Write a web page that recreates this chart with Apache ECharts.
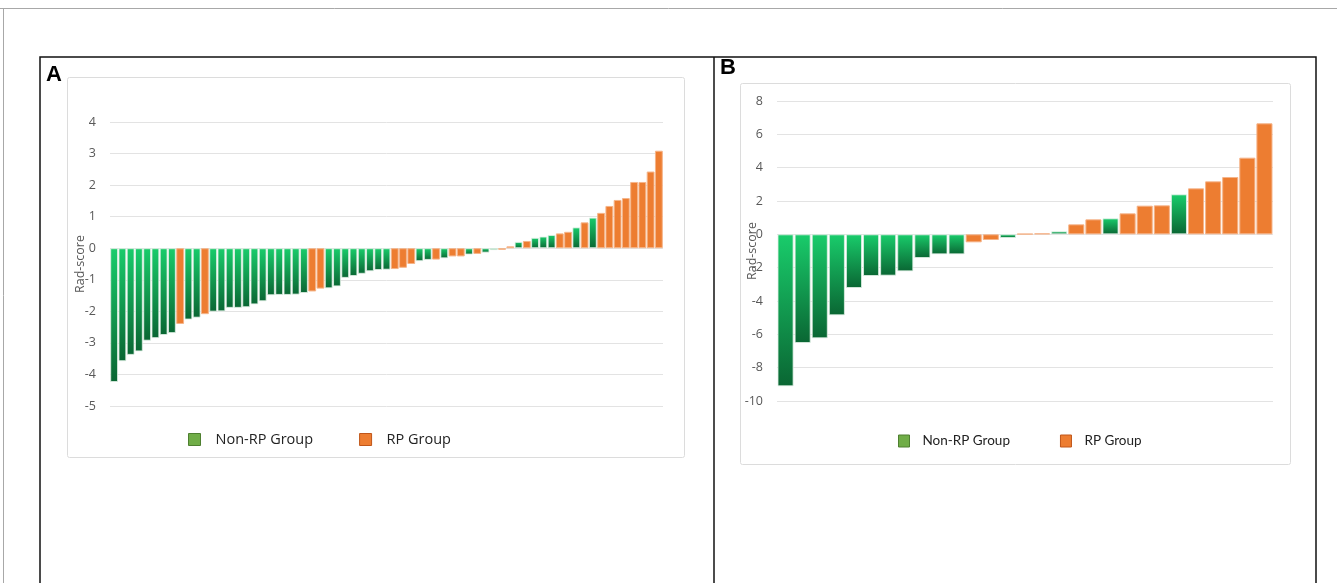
<!DOCTYPE html>
<html>
<head>
<meta charset="utf-8">
<script src="https://cdn.jsdelivr.net/npm/echarts@6/dist/echarts.min.js"></script>
<style>
  html, body { margin: 0; padding: 0; background: #ffffff; }
  #chart { width: 1337px; height: 583px; }
</style>
</head>
<body>
<div id="chart"></div>
<script>
// Panel A: rad-score per patient, sorted ascending; group flag N = Non-RP, R = RP
const scoresA = [
  -4.24, -3.58, -3.38, -3.27, -2.93, -2.85, -2.75, -2.69, -2.40, -2.26,
  -2.20, -2.09, -2.01, -2.00, -1.89, -1.89, -1.87, -1.78, -1.68, -1.49,
  -1.48, -1.48, -1.47, -1.42, -1.37, -1.28, -1.27, -1.21, -0.94, -0.88,
  -0.81, -0.73, -0.69, -0.68, -0.66, -0.62, -0.50, -0.41, -0.37, -0.36,
  -0.32, -0.26, -0.26, -0.20, -0.18, -0.14, -0.06, -0.05, 0.06, 0.20,
  0.23, 0.33, 0.37, 0.42, 0.47, 0.52, 0.66, 0.82, 0.97, 1.12,
  1.34, 1.53, 1.59, 2.10, 2.10, 2.43, 3.09
];
const groupsA = [
  'N','N','N','N','N','N','N','N','R','N',
  'N','R','N','N','N','N','N','N','N','N',
  'N','N','N','N','R','R','N','N','N','N',
  'N','N','N','N','R','R','R','N','N','R',
  'N','R','R','N','R','N','N','R','R','N',
  'R','N','N','N','R','R','N','R','N','R',
  'R','R','R','R','R','R','R'
];

// Panel B: rad-score per patient, sorted ascending
const scoresB = [
  -9.12, -6.52, -6.24, -4.86, -3.22, -2.50, -2.48, -2.22, -1.42, -1.20,
  -1.20, -0.48, -0.34, -0.22, 0.03, 0.06, 0.18, 0.60, 0.90, 0.96,
  1.26, 1.72, 1.74, 2.40, 2.76, 3.18, 3.44, 4.60, 6.66
];
const groupsB = [
  'N','N','N','N','N','N','N','N','N','N',
  'N','R','R','N','R','R','N','R','R','N',
  'R','R','R','N','R','R','R','R','R'
];

// Axis tick settings
const yTicksA = { min: -5, max: 4, interval: 1 };
const yTicksB = { min: -10, max: 8, interval: 2 };

const NON_RP = 'Non-RP Group';
const RP = 'RP Group';

const greenFill = new echarts.graphic.LinearGradient(0, 0, 0, 1, [
  { offset: 0, color: '#19cc6b' },
  { offset: 1, color: '#0a6633' }
]);
const orangeFill = '#ED7D31';

function pick(scores, groups, flag) {
  return scores.map((v, i) => (groups[i] === flag ? v : '-'));
}
function idx(n) {
  return Array.from({ length: n }, (_, i) => String(i + 1));
}

const chart = echarts.init(document.getElementById('chart'), null, { renderer: 'canvas' });

const labelColor = '#595959';
const gridColor = '#e3e3e3';

function yAxis(gridIndex, ticks, nameGap) {
  return Object.assign({
    type: 'value',
    gridIndex: gridIndex,
    name: 'Rad-score',
    nameLocation: 'middle',
    nameGap: nameGap,
    nameMoveOverlap: false,
    nameTextStyle: { color: labelColor, fontSize: 12.5, fontFamily: 'Open Sans' },
    axisLine: { show: false },
    axisTick: { show: false },
    axisLabel: { color: labelColor, fontSize: 12.5, margin: 14, fontFamily: 'Open Sans' },
    splitLine: { lineStyle: { color: gridColor, width: 1 } }
  }, ticks);
}
function xAxis(gridIndex, n) {
  return {
    type: 'category',
    gridIndex: gridIndex,
    data: idx(n),
    axisLine: { show: false },
    axisTick: { show: false },
    axisLabel: { show: false },
    splitLine: { show: false }
  };
}
function series(name, axisIndex, data, fill, border, gap) {
  return {
    name: name,
    type: 'bar',
    xAxisIndex: axisIndex,
    yAxisIndex: axisIndex,
    data: data,
    barGap: '-100%',
    barCategoryGap: gap,
    itemStyle: { color: fill, borderColor: border, borderWidth: 1 },
    emphasis: { disabled: true },
    animation: false
  };
}

const legendData = [
  { name: NON_RP, itemStyle: { color: '#70AD47', borderColor: '#4e7f30', borderWidth: 1 } },
  { name: RP, itemStyle: { color: '#ED7D31', borderColor: '#c0561a', borderWidth: 1 } }
];

chart.setOption({
  animation: false,
  grid: [
    { left: 110, right: 674, top: 122, bottom: 177 },
    { left: 777, right: 64, top: 101, bottom: 182 }
  ],
  xAxis: [xAxis(0, scoresA.length), xAxis(1, scoresB.length)],
  yAxis: [yAxis(0, yTicksA, 23), yAxis(1, yTicksB, 18)],
  legend: [
    {
      left: 183, top: 427, itemWidth: 12, itemHeight: 12, itemGap: 46,
      icon: 'rect', selectedMode: false,
      textStyle: { color: '#222', fontSize: 14.5, fontFamily: 'Open Sans', padding: [0, 0, 0, 10] },
      data: legendData
    },
    {
      left: 893, top: 429, itemWidth: 11, itemHeight: 12, itemGap: 50,
      icon: 'rect', selectedMode: false,
      textStyle: { color: '#222', fontSize: 13.5, fontFamily: 'Lato', padding: [0, 0, 0, 8] },
      data: legendData
    }
  ],
  series: [
    series(NON_RP, 0, pick(scoresA, groupsA, 'N'), greenFill, 'rgba(225,240,230,0.8)', '5%'),
    series(RP, 0, pick(scoresA, groupsA, 'R'), orangeFill, '#f5b489', '5%'),
    series(NON_RP, 1, pick(scoresB, groupsB, 'N'), greenFill, 'rgba(225,240,230,0.8)', '6%'),
    series(RP, 1, pick(scoresB, groupsB, 'R'), orangeFill, '#f5b489', '6%')
  ],
  graphic: [
    // page edge lines
    { type: 'line', shape: { x1: 0, y1: 8.5, x2: 1337, y2: 8.5 }, style: { stroke: '#a8a8a8', lineWidth: 1 }, silent: true },
    { type: 'line', shape: { x1: 3.5, y1: 8, x2: 3.5, y2: 583 }, style: { stroke: '#a8a8a8', lineWidth: 1 }, silent: true },
    // outer figure frame and panel divider
    { type: 'rect', shape: { x: 40, y: 57, width: 1276, height: 560 }, style: { fill: 'none', stroke: '#111', lineWidth: 1.5 }, silent: true, z: -1 },
    { type: 'line', shape: { x1: 714, y1: 57, x2: 714, y2: 583 }, style: { stroke: '#111', lineWidth: 1.5 }, silent: true },
    // chart area outlines
    { type: 'rect', shape: { x: 67.5, y: 77.5, width: 617, height: 380, r: 2 }, style: { fill: 'none', stroke: '#dcdcdc', lineWidth: 1 }, silent: true, z: -1 },
    { type: 'rect', shape: { x: 740.5, y: 83.5, width: 550, height: 381, r: 2 }, style: { fill: 'none', stroke: '#dcdcdc', lineWidth: 1 }, silent: true, z: -1 },
    // panel letters
    { type: 'text', left: 46, top: 64, style: { text: 'A', font: 'bold 22px "Liberation Sans", Arial', fill: '#000' }, silent: true },
    { type: 'text', left: 720, top: 57, style: { text: 'B', font: 'bold 22px "Liberation Sans", Arial', fill: '#000' }, silent: true }
  ]
});
</script>
</body>
</html>
